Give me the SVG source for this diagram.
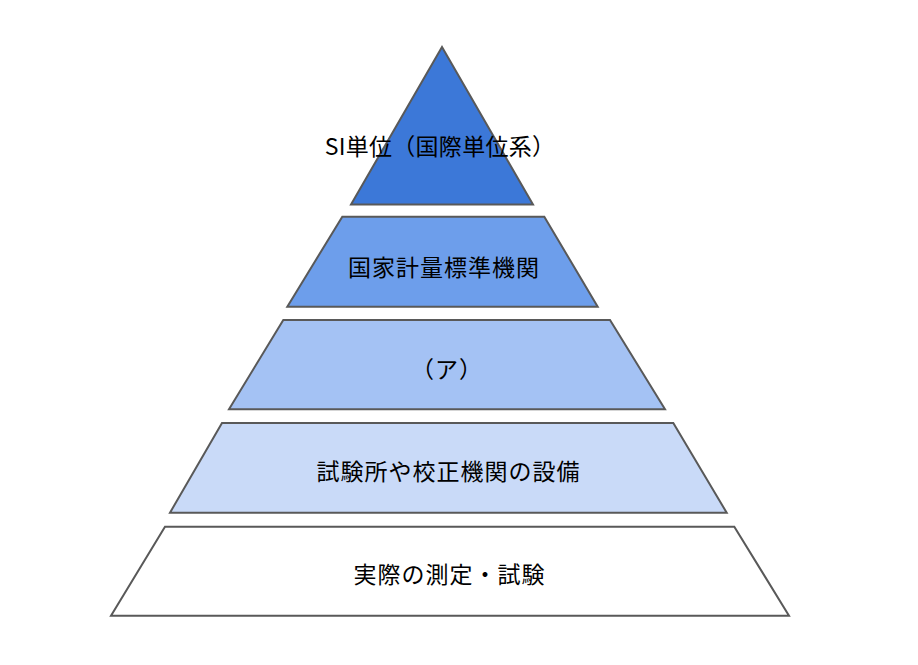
<svg xmlns="http://www.w3.org/2000/svg" width="918" height="665" viewBox="0 0 918 665">
  <style>
    .tier { stroke: #595959; stroke-width: 2; stroke-linejoin: miter; }
    .lbl { font-family: "Noto Sans CJK JP", "Noto Sans", sans-serif; font-size: 23px; fill: #000000; text-anchor: middle; letter-spacing: 1px; }
    .tight { letter-spacing: 0.3px; }
  </style>
  <rect x="0" y="0" width="918" height="665" fill="#ffffff"/>
  <g id="node-si">
    <polygon class="tier" fill="#3c78d8" points="442,47 533,204.5 351,204.5"/>
    <text class="lbl tight" x="440" y="155">SI単位（国際単位系）</text>
  </g>
  <g id="node-national">
    <polygon class="tier" fill="#6d9eeb" points="342.3,216.7 544.3,216.7 597.7,306.7 287.3,306.7"/>
    <text class="lbl" x="444" y="275.7">国家計量標準機関</text>
  </g>
  <g id="node-a">
    <polygon class="tier" fill="#a4c2f4" points="283.3,320 610,320 665,409.3 229,409.3"/>
    <text class="lbl" x="447" y="377.7">（ア）</text>
  </g>
  <g id="node-lab">
    <polygon class="tier" fill="#c9daf8" points="222,423 673.3,423 726.7,512.7 170,512.7"/>
    <text class="lbl" x="448.5" y="480">試験所や校正機関の設備</text>
  </g>
  <g id="node-measure">
    <polygon class="tier" fill="#ffffff" points="165,526.7 734.3,526.7 789,615.7 111,615.7"/>
    <text class="lbl" x="449.5" y="582.7">実際の測定・試験</text>
  </g>
  <g id="connectors"></g>
</svg>
